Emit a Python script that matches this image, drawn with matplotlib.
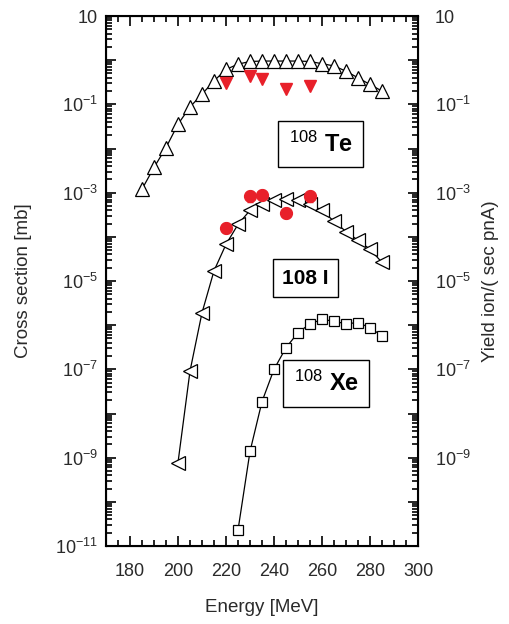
import numpy as np
import matplotlib.pyplot as plt
from matplotlib.ticker import MultipleLocator, LogLocator, NullFormatter, FixedLocator, FixedFormatter

plt.rcParams['font.family'] = ['Liberation Sans', 'DejaVu Sans']
plt.rcParams['mathtext.fontset'] = 'custom'
plt.rcParams['mathtext.rm'] = 'Liberation Sans'
plt.rcParams['mathtext.it'] = 'Liberation Sans'

# 108Te calculated (open up-triangles)
te_energy = [185, 190, 195, 200, 205, 210, 215, 220, 225, 230, 235,
             240, 245, 250, 255, 260, 265, 270, 275, 280, 285]
te_log = [-2.92, -2.43, -1.98, -1.45, -1.06, -0.77, -0.47, -0.21, -0.09, -0.03, -0.02,
          -0.02, -0.02, -0.02, -0.03, -0.08, -0.13, -0.25, -0.40, -0.55, -0.70]
# 108Te measured (red down-triangles)
te_exp_energy = [220, 230, 235, 245, 255]
te_exp_log = [-0.51, -0.36, -0.43, -0.66, -0.58]

# 108I calculated (open left-triangles)
i_energy = [200, 205, 210, 215, 220, 225, 230, 235, 240, 245, 250,
            255, 260, 265, 270, 275, 280, 285]
i_log = [-9.11, -7.04, -5.72, -4.77, -4.17, -3.72, -3.40, -3.26, -3.17, -3.15, -3.17,
         -3.26, -3.40, -3.65, -3.88, -4.08, -4.28, -4.58]
# 108I measured (red circles)
i_exp_energy = [220, 230, 235, 245, 255]
i_exp_log = [-3.79, -3.08, -3.05, -3.45, -3.08]

# 108Xe calculated (open squares)
xe_energy = [225, 230, 235, 240, 245, 250, 255, 260, 265, 270, 275, 280, 285]
xe_log = [-10.64, -8.86, -7.73, -7.00, -6.51, -6.17, -5.97, -5.87, -5.91, -5.97,
          -5.94, -6.06, -6.24]

yticks_major = [10.0 ** k for k in range(1, -12, -1)]
ylabels_left = ['10' if k == 1 else ('$10^{-%d}$' % -k if k % 2 == 1 else '')
                for k in range(1, -12, -1)]
ylabels_right = [l if l != '$10^{-11}$' else '' for l in ylabels_left]

txt = '#2a2a2a'
red = '#e8202a'

fig = plt.figure(figsize=(5.09, 6.24), dpi=100)
ax = fig.add_axes([106 / 509, 1 - 546 / 624, 312 / 509, 530 / 624])

ax.plot(te_energy, 10.0 ** np.array(te_log), color='black', lw=0.9,
        marker='^', ms=9.5, mfc='white', mec='black', mew=0.9)
ax.plot(i_energy, 10.0 ** np.array(i_log), color='black', lw=0.9,
        marker='<', ms=9.5, mfc='white', mec='black', mew=0.9)
ax.plot(xe_energy, 10.0 ** np.array(xe_log), color='black', lw=0.9,
        marker='s', ms=7, mfc='white', mec='black', mew=0.9)

te_exp = 10.0 ** np.array(te_exp_log)
ax.errorbar(te_exp_energy, te_exp, yerr=[te_exp * 0.0, te_exp * 0.35], fmt='v',
            color=red, ms=8.5, elinewidth=1, capsize=0)
i_exp = 10.0 ** np.array(i_exp_log)
ax.errorbar(i_exp_energy, i_exp, yerr=[i_exp * 0.25, i_exp * 0.3], fmt='o',
            color=red, ms=8.5, elinewidth=1, capsize=2)

ax.set_yscale('log')
ax.set_xlim(170, 300)
ax.set_ylim(1e-11, 10)

ax.xaxis.set_major_locator(MultipleLocator(20))
ax.xaxis.set_minor_locator(MultipleLocator(5))
ax.yaxis.set_major_locator(FixedLocator(yticks_major))
ax.yaxis.set_major_formatter(FixedFormatter(ylabels_left))
ax.yaxis.set_minor_locator(LogLocator(base=10, subs=np.arange(2, 10), numticks=30))
ax.yaxis.set_minor_formatter(NullFormatter())

ax.tick_params(which='both', direction='in', top=True, labelsize=13, width=1.2,
               labelcolor=txt)
ax.tick_params(which='major', length=7)
ax.tick_params(which='minor', length=4)
ax.tick_params(axis='x', which='major', pad=12)
ax.tick_params(axis='y', which='major', pad=6)
for s in ax.spines.values():
    s.set_linewidth(1.5)

ax2 = ax.twinx()
ax2.set_yscale('log')
ax2.set_ylim(1e-11, 10)
ax2.yaxis.set_major_locator(FixedLocator(yticks_major))
ax2.yaxis.set_major_formatter(FixedFormatter(ylabels_right))
ax2.yaxis.set_minor_locator(LogLocator(base=10, subs=np.arange(2, 10), numticks=30))
ax2.yaxis.set_minor_formatter(NullFormatter())
ax2.tick_params(which='both', direction='in', labelsize=13, width=1.2, pad=12,
                labelcolor=txt)
ax2.tick_params(which='major', length=7)
ax2.tick_params(which='minor', length=4)

ax.set_xlabel('Energy [MeV]', fontsize=13.5, labelpad=14, color=txt)
ax.set_ylabel('Cross section [mb]', fontsize=13.5, labelpad=16, color=txt)
ax2.set_ylabel('Yield ion/( sec pnA)', fontsize=13.5, labelpad=8, color=txt)

box = dict(boxstyle='square,pad=0.45', fc='white', ec='black', lw=1.0)
ax.text(0.688, 0.758, r'$^{108}$ Te', transform=ax.transAxes, ha='center', va='center',
        fontsize=17, fontweight='bold', bbox=box)
ax.text(0.640, 0.505, '108 I', transform=ax.transAxes, ha='center', va='center',
        fontsize=15, fontweight='bold', bbox=box)
ax.text(0.706, 0.307, r'$^{108}$ Xe', transform=ax.transAxes, ha='center', va='center',
        fontsize=17, fontweight='bold', bbox=box)

fig.savefig('out.png', dpi=100)
